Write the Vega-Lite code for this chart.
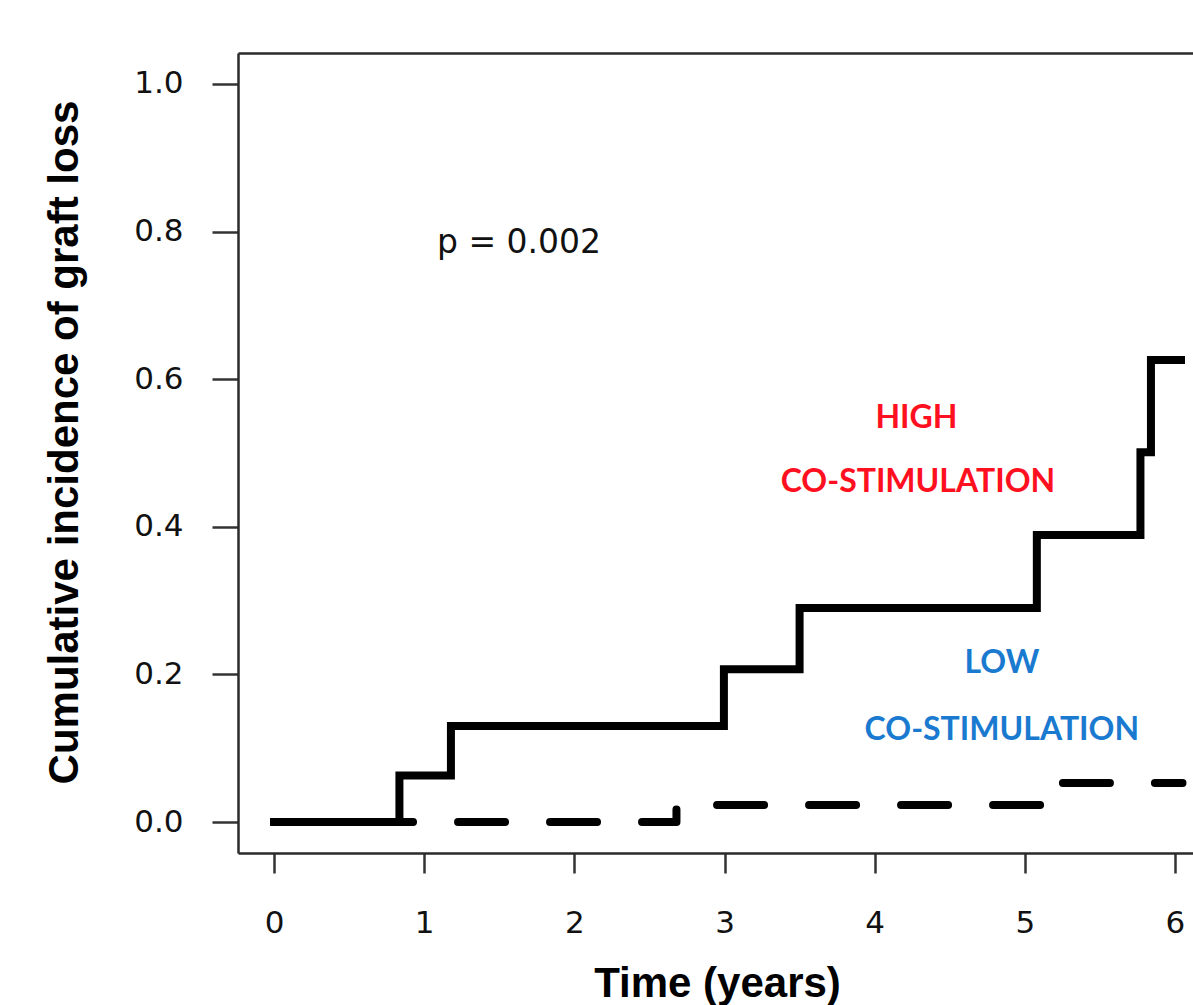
{
  "$schema": "https://vega.github.io/schema/vega-lite/v6.json",
  "width": 955,
  "height": 800,
  "autosize": {"type": "none"},
  "padding": {"left": 238, "top": 53, "right": 0, "bottom": 152},
  "background": "white",
  "config": {"view": {"stroke": null}},
  "datasets": {
    "curves": [
      {"group": "high", "time": 0, "cif": 0},
      {"group": "high", "time": 0.835, "cif": 0.063},
      {"group": "high", "time": 1.178, "cif": 0.13},
      {"group": "high", "time": 2.996, "cif": 0.207},
      {"group": "high", "time": 3.5, "cif": 0.29},
      {"group": "high", "time": 5.08, "cif": 0.389},
      {"group": "high", "time": 5.77, "cif": 0.501},
      {"group": "high", "time": 5.84, "cif": 0.626},
      {"group": "high", "time": 6.04, "cif": 0.626},
      {"group": "low", "time": 0, "cif": 0},
      {"group": "low", "time": 2.68, "cif": 0.023},
      {"group": "low", "time": 5.25, "cif": 0.053},
      {"group": "low", "time": 6.05, "cif": 0.053}
    ],
    "labels": [
      {"label": "HIGH", "group": "high", "time": 4.278, "cif": 0.534},
      {"label": "CO-STIMULATION", "group": "high", "time": 4.288, "cif": 0.447},
      {"label": "LOW", "group": "low", "time": 4.847, "cif": 0.202},
      {"label": "CO-STIMULATION", "group": "low", "time": 4.847, "cif": 0.111}
    ],
    "pvalue": [
      {"label": "p = 0.002", "time": 1.085, "cif": 0.771}
    ]
  },
  "layer": [
    {
      "data": {"name": "curves"},
      "transform": [{"filter": "datum.group === 'high'"}],
      "mark": {"type": "line", "interpolate": "step-after", "color": "black", "strokeWidth": 8, "strokeCap": "square", "strokeJoin": "miter"},
      "encoding": {
        "x": {
          "field": "time", "type": "quantitative",
          "scale": {"domain": [-0.24, 6.12], "nice": false, "zero": false},
          "axis": {
            "orient": "bottom", "values": [0, 1, 2, 3, 4, 5, 6], "format": "d",
            "grid": false, "domain": true, "domainColor": "#2a2a2a", "domainWidth": 2.5,
            "ticks": true, "tickColor": "#333333", "tickWidth": 2.5, "tickSize": 20,
            "labelFont": "DejaVu Sans", "labelFontSize": 31, "labelColor": "#111111", "labelPadding": 35,
            "title": "Time (years)", "titleFont": "Liberation Sans", "titleFontSize": 42, "titleFontWeight": "bold",
            "titleColor": "black", "titleBaseline": "alphabetic", "titleAnchor": "start", "titleAlign": "center",
            "titleX": 479, "titleY": 143
          }
        },
        "y": {
          "field": "cif", "type": "quantitative",
          "scale": {"domain": [-0.042, 1.042], "nice": false, "zero": false},
          "axis": {
            "orient": "left", "values": [0, 0.2, 0.4, 0.6, 0.8, 1.0], "format": ".1f",
            "grid": false, "domain": true, "domainColor": "#2a2a2a", "domainWidth": 2.5,
            "ticks": true, "tickColor": "#333333", "tickWidth": 2.5, "tickSize": 26,
            "labelFont": "DejaVu Sans", "labelFontSize": 31, "labelColor": "#111111", "labelPadding": 29,
            "title": "Cumulative incidence of graft loss", "titleFont": "Liberation Sans", "titleFontSize": 42,
            "titleFontWeight": "bold", "titleColor": "black", "titleAngle": -90, "titleBaseline": "middle",
            "titleAlign": "center", "titleAnchor": "start", "titleX": -174, "titleY": 389
          }
        }
      }
    },
    {
      "data": {"name": "curves"},
      "transform": [{"filter": "datum.group === 'low'"}],
      "mark": {"type": "line", "interpolate": "step-after", "color": "black", "strokeWidth": 8, "strokeCap": "round", "strokeJoin": "round", "strokeDash": [47, 45]},
      "encoding": {
        "x": {"field": "time", "type": "quantitative", "scale": {"domain": [-0.24, 6.12], "nice": false, "zero": false},
          "axis": {"orient": "top", "domain": true, "domainColor": "#2a2a2a", "domainWidth": 2.5, "ticks": false, "labels": false, "grid": false, "title": null}},
        "y": {"field": "cif", "type": "quantitative"}
      }
    },
    {
      "data": {"name": "labels"},
      "mark": {"type": "text", "font": "Lato", "fontWeight": "bold", "fontSize": 32, "align": "center", "baseline": "alphabetic"},
      "encoding": {
        "x": {"field": "time", "type": "quantitative", "axis": null},
        "y": {"field": "cif", "type": "quantitative"},
        "text": {"field": "label"},
        "color": {"field": "group", "type": "nominal", "scale": {"domain": ["high", "low"], "range": ["#ff1020", "#1a7ad0"]}, "legend": null}
      }
    },
    {
      "data": {"name": "pvalue"},
      "mark": {"type": "text", "font": "DejaVu Sans", "fontSize": 33, "align": "left", "baseline": "alphabetic", "color": "#111111"},
      "encoding": {
        "x": {"field": "time", "type": "quantitative", "axis": null},
        "y": {"field": "cif", "type": "quantitative"},
        "text": {"field": "label"}
      }
    }
  ],
  "resolve": {"axis": {"x": "independent"}}
}
